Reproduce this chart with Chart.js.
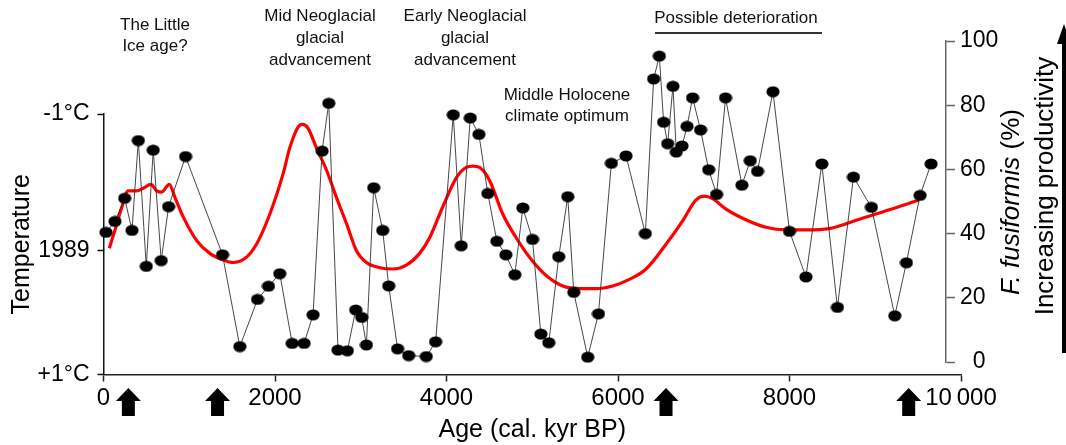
<!DOCTYPE html>
<html>
<head>
<meta charset="utf-8">
<script src="https://cdn.jsdelivr.net/npm/chart.js@4/dist/chart.umd.min.js"></script>
<style>
body { margin: 0; background: #fff; }
</style>
</head>
<body>
<canvas id="chart" width="1066" height="445"></canvas>
<script>
// F. fusiformis (%) – ages (cal. yr BP) and values
const fusAges = [29, 134, 247, 332, 406, 499, 580, 673, 759, 957,
  1388, 1590, 1796, 1924, 2056, 2200, 2339, 2444, 2549, 2627,
  2735, 2844, 2941, 3011, 3066, 3151, 3256, 3326, 3430, 3559,
  3764, 3873, 4079, 4172, 4277, 4378, 4482, 4587, 4692, 4797,
  4890, 5003, 5100, 5193, 5309, 5414, 5484, 5647, 5772, 5923,
  6094, 6319, 6416, 6482, 6532, 6579, 6641, 6680, 6747, 6805,
  6870, 6963, 7057, 7150, 7254, 7445, 7542, 7627, 7807, 8000,
  8191, 8377, 8559, 8746, 8955, 9228, 9363, 9522, 9651];
const fusPct = [40.4, 43.8, 51, 41, 69, 29.8, 66, 31.6, 48.4, 64,
  33.4, 4.8, 19.5, 23.6, 27.5, 5.8, 5.8, 14.7, 65.7, 80.6,
  3.7, 3.5, 16.2, 13.9, 5.3, 54.3, 41, 23.7, 4.1, 2,
  1.7, 6.3, 77, 36.2, 76, 70.9, 52.5, 37.6, 33.4, 27.2,
  48, 38.2, 8.7, 6, 32.8, 51.5, 21.7, 1.5, 15, 61.9,
  64.2, 40, 88.2, 95.3, 74.7, 68, 85.9, 65.4, 67.3, 73.4,
  82.3, 72.3, 59.9, 52.2, 82.3, 55.1, 62.7, 59.4, 84.2, 40.7,
  26.5, 61.7, 17, 57.6, 48.2, 14.4, 30.9, 51.9, 61.7];

// temperature curve (red), in °C relative to 1989 (negative = up)
const tempAges = [68, 134, 212, 289, 386, 464, 553, 619, 678, 767,
  833, 930, 1085, 1240, 1395, 1512, 1648, 1784, 1939, 2094,
  2172, 2269, 2320, 2386, 2483, 2600, 2716, 2833, 2950, 3066,
  3221, 3376, 3532, 3687, 3803, 3958, 4114, 4230, 4308, 4386,
  4502, 4657, 4813, 4968, 5162, 5356, 5550, 5745, 5938, 6133,
  6327, 6560, 6754, 6910, 7006, 7103, 7259, 7452, 7725, 7958,
  8191, 8462, 8850, 9240, 9511];
const tempVals = [0.03, -0.11, -0.28, -0.41, -0.41, -0.43, -0.46, -0.41, -0.40, -0.46,
  -0.36, -0.21, -0.03, 0.07, 0.12, 0.14, 0.11, 0.0, -0.23, -0.54,
  -0.74, -0.90, -0.92, -0.89, -0.74, -0.57, -0.36, -0.16, 0.05, 0.14,
  0.18, 0.19, 0.16, 0.07, -0.05, -0.29, -0.51, -0.59, -0.60, -0.59,
  -0.49, -0.23, -0.05, 0.10, 0.24, 0.32, 0.34, 0.34, 0.32, 0.27,
  0.19, 0.0, -0.18, -0.34, -0.37, -0.35, -0.27, -0.20, -0.13, -0.11,
  -0.11, -0.12, -0.20, -0.28, -0.34];

// axis ticks
const ageTicks = [0, 2000, 4000, 6000, 8000, 10000];
const ageTickLabels = ['0', '2000', '4000', '6000', '8000', '10\u2009000'];
const tempTicks = [-1, 0.05, 1];
const tempTickLabels = ['-1°C', '1989', '+1°C'];
const fusTicks = [0, 20, 40, 60, 80, 100];
const fusTickLabels = ['\u20070', '20', '40', '60', '80', '100'];

// dated levels (arrows under the age axis)
const arrowAges = [290, 1330, 6560, 9390];

// annotations
const noteLittleIceAge = ['The Little', 'Ice age?'];
const noteMidNeo = ['Mid Neoglacial', 'glacial', 'advancement'];
const noteEarlyNeo = ['Early Neoglacial', 'glacial', 'advancement'];
const noteHolocene = ['Middle Holocene', 'climate optimum'];
const noteDeterioration = 'Possible deterioration';

const FONT = '"Liberation Sans", Arial, sans-serif';

// elliptical dot used as point style
const dot = document.createElement('canvas');
dot.width = 14;
dot.height = 12;
let dctx = dot.getContext('2d');
dctx.fillStyle = '#000';
dctx.beginPath();
dctx.ellipse(7, 6, 6.6, 5.6, 0, 0, Math.PI * 2);
dctx.fill();

// put the two y axes where the figure has them
const axisPlacement = {
  id: 'axisPlacement',
  afterLayout(chart) {
    let t = chart.scales.yTemp;
    t.top = 114;
    t.bottom = chart.chartArea.bottom;
    t.height = t.bottom - t.top;
    t.configure();

    let r = chart.scales.yFus;
    let w = r.right - r.left;
    r.left = 946;
    r.right = 946 + w;
    r.top = 41;
    r.bottom = 362;
    r.height = r.bottom - r.top;
    r.configure();
  }
};

function drawLines(ctx, lines, x, y, step) {
  lines.forEach((s, i) => ctx.fillText(s, x, y + i * step));
}

const annotate = {
  id: 'annotate',
  afterDraw(chart) {
    const ctx = chart.ctx;
    const xs = chart.scales.x;
    ctx.save();
    ctx.fillStyle = '#111';
    ctx.textAlign = 'center';
    ctx.textBaseline = 'middle';
    ctx.font = '17px ' + FONT;
    drawLines(ctx, noteLittleIceAge, 155, 25, 21);
    drawLines(ctx, noteMidNeo, 320, 16, 22);
    drawLines(ctx, noteEarlyNeo, 465, 16, 22);
    drawLines(ctx, noteHolocene, 567, 95, 21);
    ctx.fillText(noteDeterioration, 736, 18);
    ctx.strokeStyle = '#333';
    ctx.lineWidth = 2;
    ctx.beginPath();
    ctx.moveTo(655, 33);
    ctx.lineTo(822, 33);
    ctx.stroke();

    // arrows under the age axis
    ctx.fillStyle = '#000';
    arrowAges.forEach(a => {
      let px = xs.getPixelForValue(a);
      ctx.beginPath();
      ctx.moveTo(px, 388);
      ctx.lineTo(px + 12.5, 401);
      ctx.lineTo(px + 6.5, 401);
      ctx.lineTo(px + 6.5, 416);
      ctx.lineTo(px - 6.5, 416);
      ctx.lineTo(px - 6.5, 401);
      ctx.lineTo(px - 12.5, 401);
      ctx.closePath();
      ctx.fill();
    });

    // right titles
    ctx.save();
    ctx.translate(1012, 202);
    ctx.rotate(-Math.PI / 2);
    ctx.textAlign = 'left';
    let it = 'italic 26px ' + FONT;
    let nm = '26px ' + FONT;
    ctx.font = it;
    let w1 = ctx.measureText('F. fusiformis').width;
    ctx.font = nm;
    let w2 = ctx.measureText(' (%)').width;
    let start = -(w1 + w2) / 2;
    ctx.font = it;
    ctx.fillText('F. fusiformis', start, 0);
    ctx.font = nm;
    ctx.fillText(' (%)', start + w1, 0);
    ctx.restore();

    ctx.save();
    ctx.translate(1046, 186);
    ctx.rotate(-Math.PI / 2);
    ctx.font = '26px ' + FONT;
    ctx.fillText('Increasing productivity', 0, 0);
    ctx.restore();

    ctx.strokeStyle = '#000';
    ctx.lineWidth = 4;
    ctx.beginPath();
    ctx.moveTo(1064, 353);
    ctx.lineTo(1064, 40);
    ctx.stroke();
    ctx.beginPath();
    ctx.moveTo(1064, 24);
    ctx.lineTo(1071, 44);
    ctx.lineTo(1057, 44);
    ctx.closePath();
    ctx.fill();
    ctx.restore();
  }
};

const ctx = document.getElementById('chart').getContext('2d');
const chart = new Chart(ctx, {
  type: 'line',
  data: {
    datasets: [{
      label: 'F. fusiformis',
      data: fusAges.map((a, i) => ({ x: a, y: fusPct[i] })),
      yAxisID: 'yFus',
      borderColor: '#333',
      borderWidth: 0.9,
      pointStyle: dot,
      pointRadius: 6,
      tension: 0,
      clip: false,
      order: 0
    }, {
      label: 'Temperature',
      data: tempAges.map((a, i) => ({ x: a, y: tempVals[i] })),
      yAxisID: 'yTemp',
      borderColor: '#ff0000',
      borderWidth: 3.2,
      pointRadius: 0,
      cubicInterpolationMode: 'monotone',
      order: 1
    }]
  },
  options: {
    responsive: false,
    animation: false,
    devicePixelRatio: 1,
    layout: { padding: { top: 30, left: 0, right: 0, bottom: 0 } },
    plugins: {
      legend: { display: false },
      tooltip: { enabled: false }
    },
    scales: {
      x: {
        type: 'linear',
        position: 'bottom',
        min: 0,
        max: 10000,
        afterBuildTicks: s => { s.ticks = ageTicks.map(v => ({ value: v })); },
        afterFit: s => { s.height = 70.5; },
        ticks: {
          callback: (v, i) => ageTickLabels[i],
          color: '#000',
          font: { family: FONT, size: 24 },
          padding: 2,
          maxRotation: 0
        },
        grid: { drawOnChartArea: false, tickLength: 7, tickColor: '#222', tickWidth: 1.5 },
        border: { color: '#222', width: 1.5 },
        title: {
          display: true,
          text: 'Age (cal. kyr BP)',
          color: '#000',
          font: { family: FONT, size: 25 },
          padding: { top: 0, bottom: 0 }
        }
      },
      yTemp: {
        type: 'linear',
        position: 'left',
        min: -1,
        max: 1,
        reverse: true,
        afterBuildTicks: s => { s.ticks = tempTicks.map(v => ({ value: v })); },
        afterFit: s => { s.width = 103.5; },
        ticks: {
          callback: (v, i) => tempTickLabels[i],
          color: '#000',
          font: { family: FONT, size: 23 },
          padding: 8
        },
        grid: { drawOnChartArea: false, tickLength: 6, tickColor: '#111', tickWidth: 1.5 },
        border: { color: '#111', width: 1.5 },
        title: {
          display: true,
          text: 'Temperature',
          color: '#000',
          font: { family: FONT, size: 25 },
          padding: { top: 7, bottom: 0 }
        }
      },
      yFus: {
        type: 'linear',
        position: 'right',
        min: 0,
        max: 100,
        afterBuildTicks: s => { s.ticks = fusTicks.map(v => ({ value: v })); },
        afterFit: s => { s.width = 105; },
        ticks: {
          callback: (v, i) => fusTickLabels[i],
          color: '#000',
          font: { family: FONT, size: 23 },
          padding: 5
        },
        grid: { drawOnChartArea: false, tickLength: 9, tickColor: '#666', tickWidth: 1.5 },
        border: { color: '#666', width: 1.5 }
      }
    }
  },
  plugins: [axisPlacement, annotate]
});
</script>
</body>
</html>
